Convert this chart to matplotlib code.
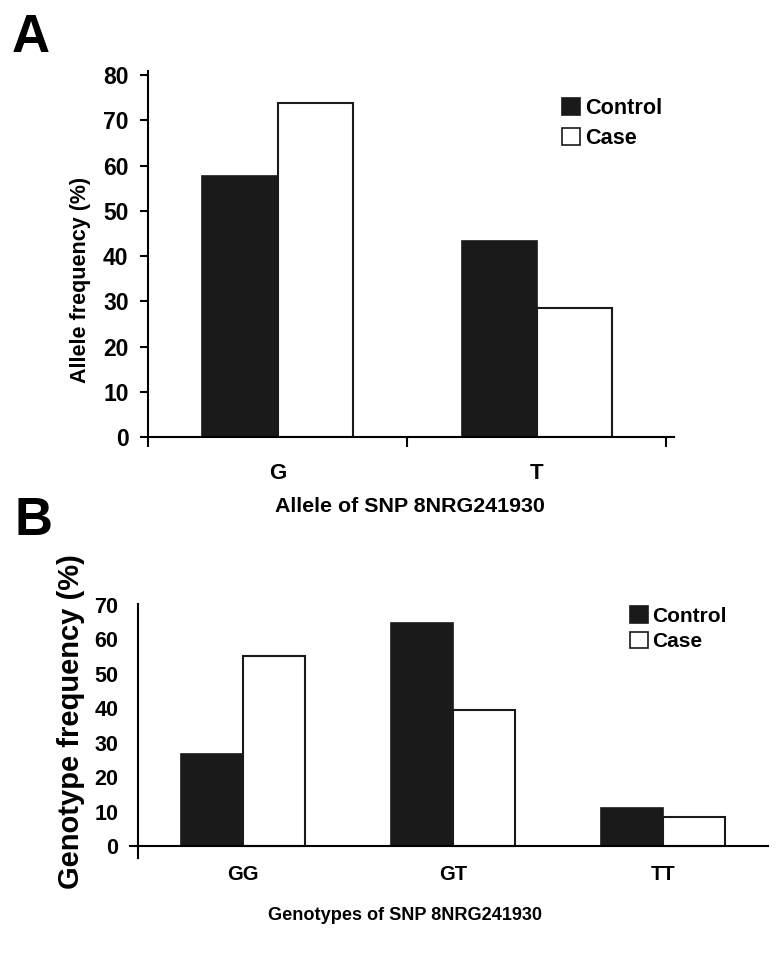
import numpy as np
import matplotlib
matplotlib.use('Agg')
from matplotlib import pyplot as plt
from matplotlib.patches import Patch

plt.rcParams['font.family'] = ['Liberation Sans', 'DejaVu Sans']
plt.rcParams['font.weight'] = 'bold'

# panel A data
ALLELES = ['G', 'T']
ALLELE_CONTROL = [57.7, 43.3]
ALLELE_CASE = [73.9, 28.4]
A_YTICKS = [0, 10, 20, 30, 40, 50, 60, 70, 80]

# panel B data
GENOTYPES = ['GG', 'GT', 'TT']
GENO_CONTROL = [26.6, 64.9, 11.1]
GENO_CASE = [55.3, 39.5, 8.3]
B_YTICKS = [0, 10, 20, 30, 40, 50, 60, 70]

LEGEND_LABELS = ['Control', 'Case']
BAR_BLACK = '#1a1a1a'

W, H = 780, 974
fig = plt.figure(figsize=(W / 100, H / 100), dpi=100)


def px_box(left, right, top, bottom):
    return [left / W, 1 - bottom / H, (right - left) / W, (bottom - top) / H]


def legend_at(ax, x, y, size, spacing):
    handles = [Patch(facecolor=BAR_BLACK, edgecolor=BAR_BLACK, linewidth=1.2),
               Patch(facecolor='white', edgecolor=BAR_BLACK, linewidth=1.2)]
    ax.legend(handles, LEGEND_LABELS, loc='upper left',
              bbox_to_anchor=(x / W, 1 - y / H), bbox_transform=fig.transFigure,
              frameon=False, borderpad=0, borderaxespad=0, handlelength=0.85,
              handleheight=0.85, handletextpad=0.2, labelspacing=spacing,
              prop={'size': size, 'weight': 'bold'})


# ---- panel A ----
AX1 = fig.add_axes(px_box(148, 674, 71.4, 437))
x = np.arange(len(ALLELES))
bw = 0.29
AX1.bar(x - bw / 2, ALLELE_CONTROL, bw, color=BAR_BLACK, edgecolor=BAR_BLACK, linewidth=1.2)
AX1.bar(x + bw / 2, ALLELE_CASE, bw, color='white', edgecolor=BAR_BLACK, linewidth=1.5)
AX1.set_xlim(-0.5, 1.53)
AX1.set_ylim(0, 80.8)
AX1.set_yticks(A_YTICKS)
AX1.tick_params(axis='y', direction='out', length=6, width=1.5, pad=8, labelsize=16.5)
AX1.set_xticks(x)
AX1.set_xticklabels(ALLELES)
AX1.tick_params(axis='x', length=0, pad=19, labelsize=16)
AX1.set_xticks([-0.5, 0.5, 1.5], minor=True)
AX1.tick_params(axis='x', which='minor', direction='out', length=7, width=1.5)
for s in ['top', 'right']:
    AX1.spines[s].set_visible(False)
for s in ['left', 'bottom']:
    AX1.spines[s].set_linewidth(1.5)
AX1.set_ylabel('Allele frequency (%)', fontsize=15.5, fontweight='bold')
AX1.yaxis.set_label_coords((91 - 148) / (674 - 148), (437 - 280) / (437 - 71.4))
legend_at(AX1, 562, 98, 15.6, 0.4)
fig.text(410 / W, 1 - 506 / H, 'Allele of SNP 8NRG241930', ha='center', va='center',
         fontsize=15.4, fontweight='bold')
fig.text(12 / W, 1 - 38 / H, 'A', ha='left', va='center', fontsize=38, fontweight='bold')

# ---- panel B ----
AX2 = fig.add_axes(px_box(129.6, 768, 604, 858))
x2 = np.arange(len(GENOTYPES))
bw2 = 0.295
AX2.bar(x2 - bw2 / 2, GENO_CONTROL, bw2, color=BAR_BLACK, edgecolor=BAR_BLACK, linewidth=1.2)
AX2.bar(x2 + bw2 / 2, GENO_CASE, bw2, color='white', edgecolor=BAR_BLACK, linewidth=1.5)
AX2.set_xlim(-0.54, 2.5)
AX2.set_ylim(-3.5, 70.3)
AX2.spines['left'].set_position(('data', -0.5))
AX2.spines['bottom'].set_position(('data', 0))
for s in ['top', 'right']:
    AX2.spines[s].set_visible(False)
for s in ['left', 'bottom']:
    AX2.spines[s].set_linewidth(1.5)
AX2.set_yticks(B_YTICKS)
AX2.tick_params(axis='y', length=0, pad=14, labelsize=15.5)
AX2.set_xticks(x2)
AX2.set_xticklabels(GENOTYPES)
AX2.tick_params(axis='x', length=0, pad=14, labelsize=14.5)
AX2.set_ylabel('Genotype frequency (%)', fontsize=21, fontweight='bold')
AX2.yaxis.set_label_coords((85 - 129.6) / (768 - 129.6), (858 - 722) / (858 - 604))
legend_at(AX2, 630, 606, 15, 0.3)
fig.text(405 / W, 1 - 916 / H, 'Genotypes of SNP 8NRG241930', ha='center', va='center',
         fontsize=13.1, fontweight='bold')
fig.text(14 / W, 1 - 521 / H, 'B', ha='left', va='center', fontsize=38, fontweight='bold')

fig.savefig('out.png', dpi=100)
